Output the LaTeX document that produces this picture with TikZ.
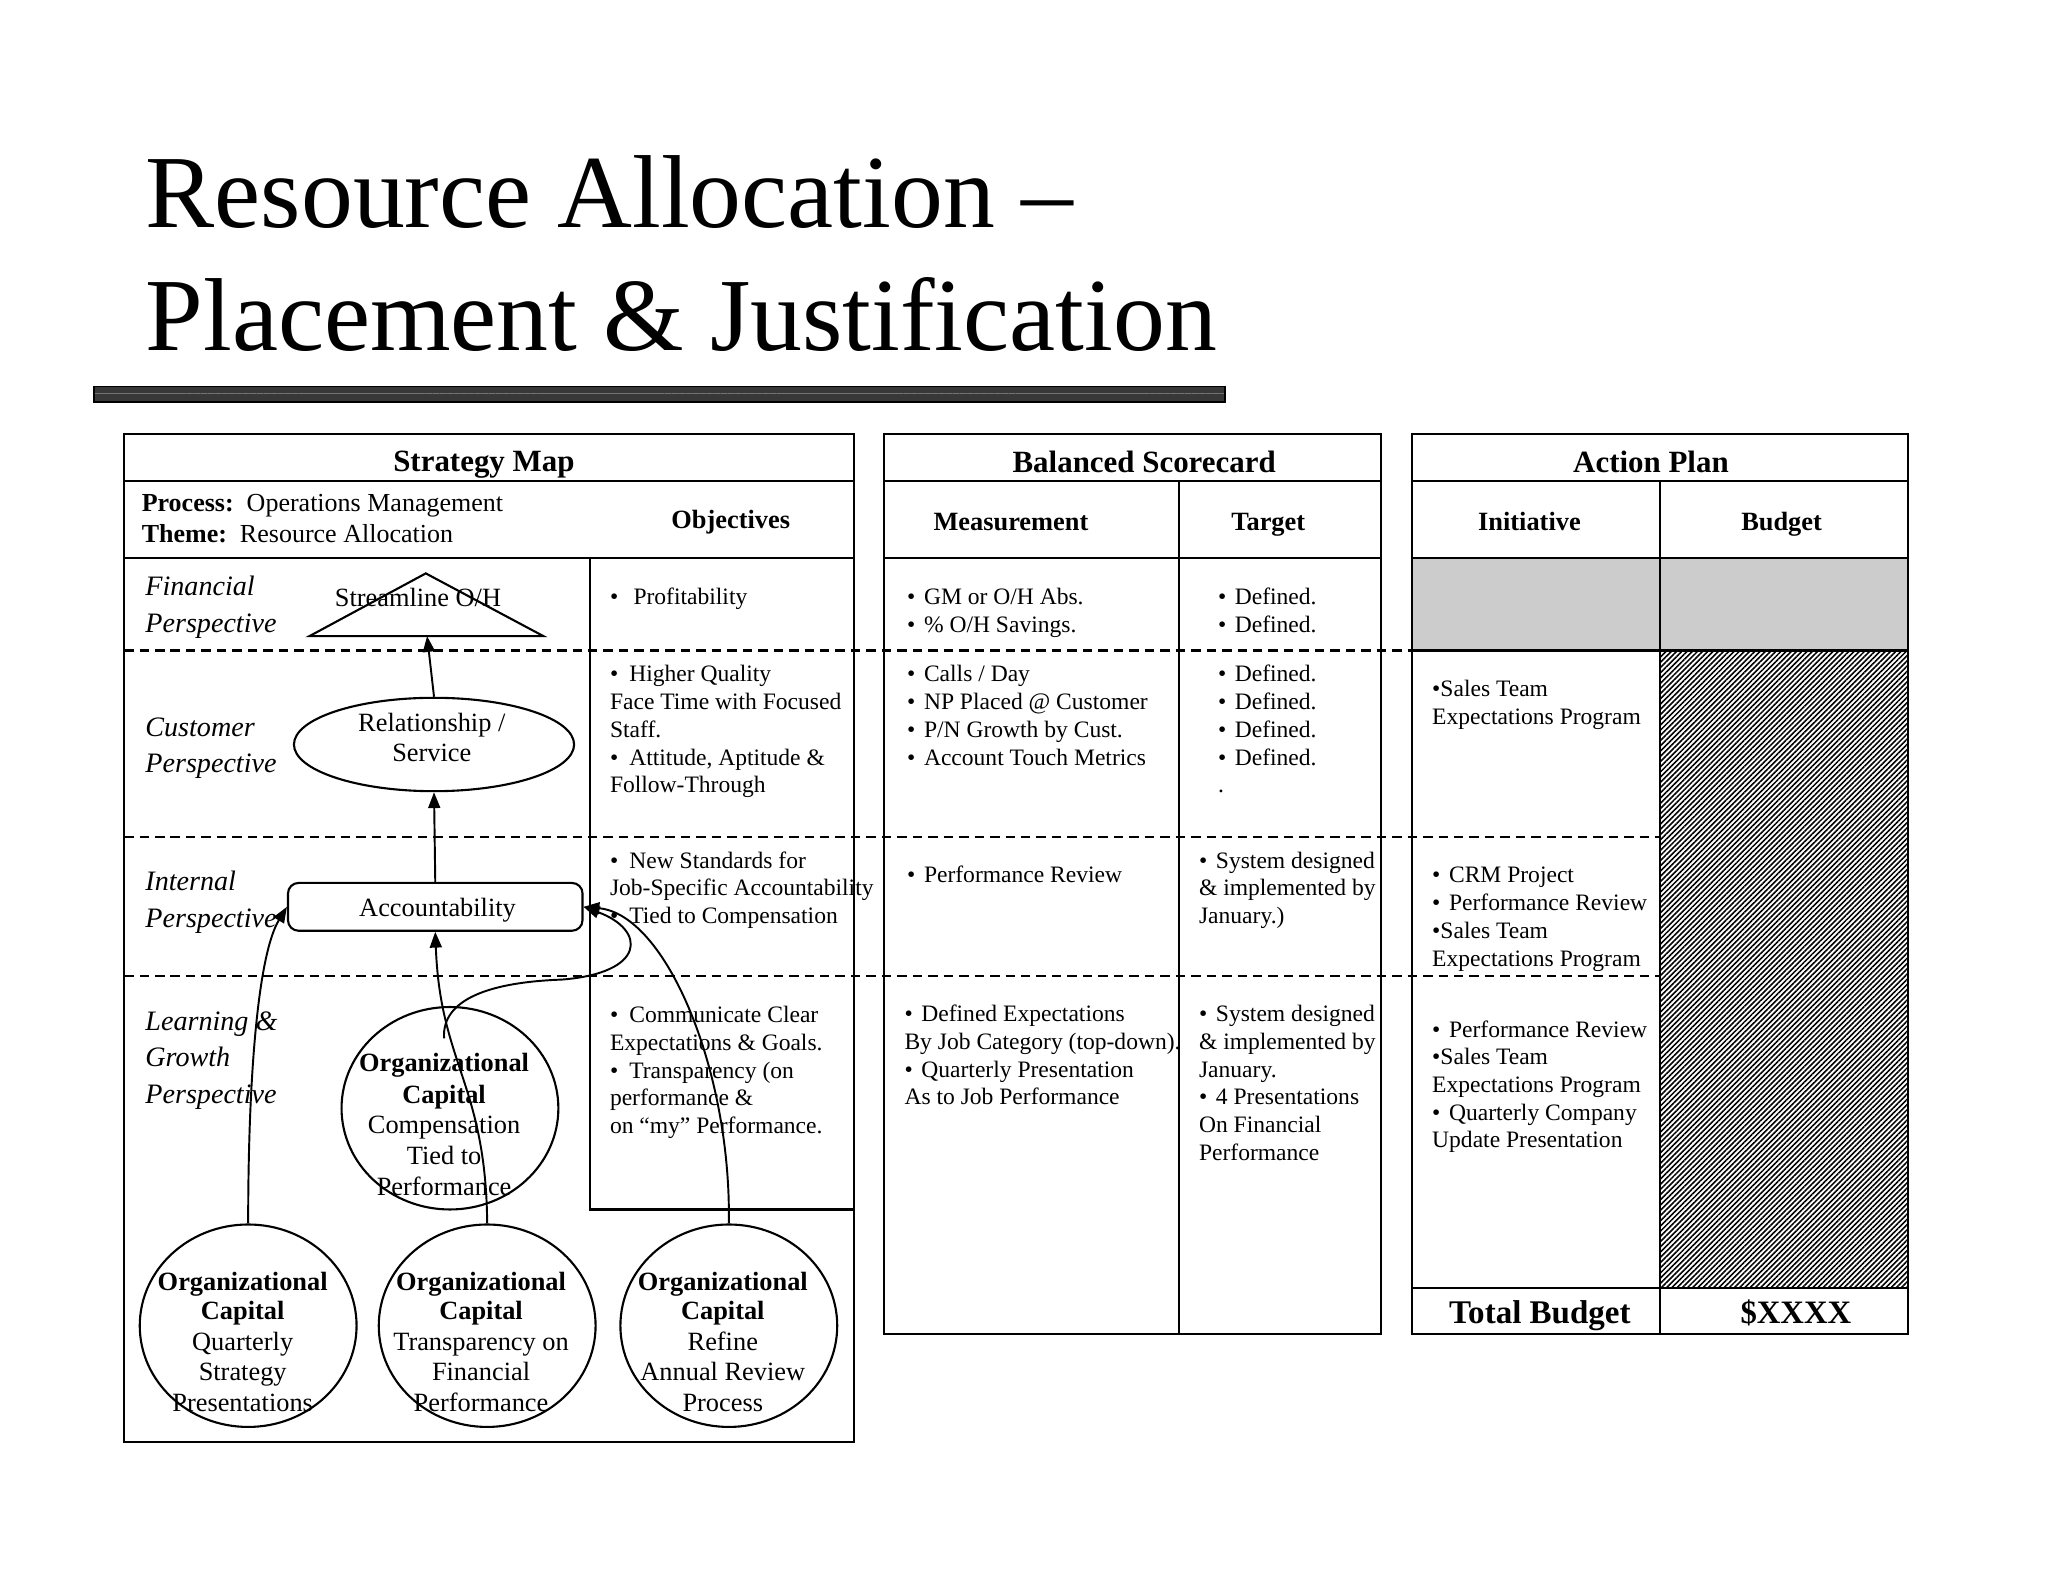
\documentclass[tikz,border=0pt]{standalone}
\usepackage{fontspec}
\setmainfont{Liberation Serif}
\usetikzlibrary{shapes.geometric,arrows.meta,patterns.meta}
\def\U{0.13061mm}
\newcommand\fs[2]{\fontsize{#1}{#2}\selectfont}
\newcommand\bu[1][4.8pt]{\makebox[#1][l]{•}}
\newcommand\mlines[6]{\foreach \tx [count=\i] in {#6}{\node[#1] (#2\i) at (#3,{#4+(\i-1)*#5}) {\tx};}}
\begin{document}
\begin{tikzpicture}[x=\U, y=-\U,
  box/.style={line width=0.6pt},
  dsh/.style={line width=0.6pt, dash pattern=on 2.7pt off 1.7pt},
  arr/.style={line width=0.55pt, -{Triangle[length=4.5pt,width=3.4pt]}},
  tl/.style={anchor=base west, inner sep=0pt, font=\fs{6.7}{8}},
  tc/.style={anchor=base, inner sep=0pt, font=\fs{7.5}{9}},
  tcb/.style={anchor=base, inner sep=0pt, font=\fs{7.5}{9}\bfseries},
  persp/.style={anchor=base west, inner sep=0pt, font=\fs{8}{10}\itshape},
  hdr/.style={anchor=base, inner sep=0pt, font=\fs{8.8}{10}\bfseries},
  sub/.style={anchor=base, inner sep=0pt, font=\fs{7.5}{9}\bfseries},
  ttl/.style={anchor=base west, inner sep=0pt, font=\fs{29.5}{35}},
  ell/.style={ellipse, draw, line width=0.6pt, inner sep=0pt, minimum width=166*\U, minimum height=155*\U}]
\useasboundingbox (0,0) rectangle (1568,1211);
\fill[white] (0,0) rectangle (1568,1211);

% title
\node[ttl] (t1) at (111,173.8) {Resource Allocation –};
\node[ttl] (t2) at (111,268) {Placement \& Justification};
\fill[black!78] (72,296) rectangle (938,308);
\fill[pattern={Lines[angle=0,distance=2pt,line width=0.25pt]}, pattern color=black!55] (72,298) rectangle (938,306);
\draw[black, line width=0.5pt] (72,296) rectangle (938,308);

% fills
\fill[black!20] (1081,427) rectangle (1461,498);
\fill[pattern={Lines[angle=45,distance=1.05pt,line width=0.45pt]}] (1271,498) rectangle (1461,986);

% dashed rows
\draw[dsh] (95,498) -- (1081,498);
\draw[dsh] (95,641) -- (1271,641);
\draw[dsh] (95,747.5) -- (1271,747.5);

% Strategy map frame
\draw[box] (95,332) rectangle (653.5,1104);
\draw[box] (95,368) -- (653.5,368);
\draw[box] (95,427) -- (653.5,427);
\draw[box] (452,427) -- (452,926) -- (653.5,926);

% Balanced scorecard frame
\draw[box] (677,332) rectangle (1057,1021);
\draw[box] (677,368) -- (1057,368);
\draw[box] (677,427) -- (1057,427);
\draw[box] (903,368) -- (903,1021);

% Action plan frame
\draw[box] (1081,332) rectangle (1461,1021);
\draw[box] (1081,368) -- (1461,368);
\draw[box] (1081,427) -- (1461,427);
\draw[box] (1081,498) -- (1461,498);
\draw[box] (1271,368) -- (1271,1021);
\draw[box] (1081,986) -- (1461,986);

% headers
\node[hdr] (hSM) at (370.5,361) {Strategy Map};
\node[hdr] (hBS) at (876,361.6) {Balanced Scorecard};
\node[hdr] (hAP) at (1264,361.6) {Action Plan};
\node[sub] (hOb) at (559.5,405) {Objectives};
\node[sub] (hMe) at (774,405.8) {Measurement};
\node[sub] (hTa) at (971,405.8) {Target};
\node[sub] (hIn) at (1171,405.8) {Initiative};
\node[sub] (hBu) at (1364,405.8) {Budget};
\node[anchor=base west, inner sep=0pt, font=\fs{7.4}{9}] (proc) at (108,391.7) {\textbf{Process:}\ \ Operations Management};
\node[anchor=base west, inner sep=0pt, font=\fs{7.4}{9}] (theme) at (108,415) {\textbf{Theme:}\ \ Resource Allocation};

% perspectives
\mlines{persp}{pF}{110.8}{456.3}{27.7}{Financial,Perspective}
\mlines{persp}{pC}{110.8}{563.5}{28.1}{Customer,Perspective}
\mlines{persp}{pI}{110.8}{682}{27.8}{Internal,Perspective}
\mlines{persp}{pL}{110.8}{788.6}{28.2}{Learning \&,Growth,Perspective}

% strategy map shapes
\draw[line width=0.6pt] (237,487) -- (326,439) -- (416,487) -- cycle;
\coordinate (tri) at (327,487);
\node[tc] (triT) at (320,464.5) {Streamline O/H};

\node[ellipse, draw, line width=0.6pt, inner sep=0pt, minimum width=214.5*\U, minimum height=71.5*\U] (rel) at (332.3,570) {};
\mlines{tc}{relT}{330.6}{559.7}{23.3}{Relationship /,Service}

\node[draw, rounded corners=3pt, line width=0.6pt, inner sep=0pt, minimum width=225.5*\U, minimum height=36.6*\U] (acc) at (333.25,694.3) {};
\node[tc] (accT) at (335,701.8) {Accountability};

\node[ell] (comp) at (344.5,848.5) {};
\mlines{tcb}{compB}{340}{820.5}{24.1}{Organizational,Capital}
\mlines{tc}{compT}{340}{867.6}{23.7}{Compensation,Tied to,Performance}

\node[ell] (ocA) at (190,1015) {};
\node[ell] (ocB) at (373,1015) {};
\node[ell] (ocC) at (558,1015) {};
\mlines{tcb}{ocAB}{185.8}{987.7}{22.9}{Organizational,Capital}
\mlines{tc}{ocAT}{185.8}{1033.6}{23.6}{Quarterly,Strategy,Presentations}
\mlines{tcb}{ocBB}{368.3}{987.7}{22.9}{Organizational,Capital}
\mlines{tc}{ocBT}{368.3}{1033.6}{23.6}{Transparency on,Financial,Performance}
\mlines{tcb}{ocCB}{553.4}{987.7}{22.9}{Organizational,Capital}
\mlines{tc}{ocCT}{553.4}{1033.6}{23.6}{Refine,Annual Review,Process}

% objectives
\node[tl] (obF) at (466.5,462.5) {\bu[6.7pt]Profitability};
\mlines{tl}{obC}{466.5}{522}{21.25}{\bu[5.5pt]Higher Quality,Face Time with Focused,Staff.,{\bu[5.5pt]Attitude, Aptitude \&},Follow-Through}
\mlines{tl}{obI}{466.5}{664.6}{21.1}{\bu[5.5pt]New Standards for,Job-Specific Accountability,\bu[5.5pt]Tied to Compensation}
\mlines{tl}{obL}{466.5}{783}{21.25}{\bu[5.5pt]Communicate Clear,Expectations \& Goals.,\bu[5.5pt]Transparency (on,performance \&,on “my” Performance.}

% measurement
\mlines{tl}{meF}{694}{462.6}{21.3}{\bu GM or O/H Abs.,\bu \% O/H Savings.}
\mlines{tl}{meC}{694}{521.9}{21.3}{\bu Calls / Day,\bu NP Placed @ Customer,\bu P/N Growth by Cust.,\bu Account Touch Metrics}
\node[tl] (meI) at (694,676) {\bu Performance Review};
\mlines{tl}{meL}{692}{782.2}{21.2}{\bu Defined Expectations,By Job Category (top-down).,\bu Quarterly Presentation,As to Job Performance}

% target
\mlines{tl}{taF}{932}{462.6}{21.3}{\bu Defined.,\bu Defined.}
\mlines{tl}{taC}{932}{521.9}{21.3}{\bu Defined.,\bu Defined.,\bu Defined.,\bu Defined.,.}
\mlines{tl}{taI}{917.5}{664.6}{21.1}{\bu System designed,\& implemented by,January.)}
\mlines{tl}{taL}{917.5}{782.2}{21.2}{\bu System designed,\& implemented by,January.,\bu 4 Presentations,On Financial,Performance}

% initiative
\mlines{tl}{inC}{1096}{533.4}{21.3}{•Sales Team,Expectations Program}
\mlines{tl}{inI}{1096}{676}{21.3}{\bu CRM Project,\bu Performance Review,•Sales Team,Expectations Program}
\mlines{tl}{inL}{1096}{794}{21.2}{\bu Performance Review,•Sales Team,Expectations Program,\bu Quarterly Company,Update Presentation}

% total budget
\node[anchor=base, inner sep=0pt, font=\fs{9.4}{11}\bfseries] (tb) at (1179,1013) {Total Budget};
\node[anchor=base, inner sep=0pt, font=\fs{9.3}{11}\bfseries] (tbv) at (1375,1013) {\$XXXX};

% connectors
\coordinate (cj) at (340,795);
\draw[arr] (rel.north) -- (tri);
\draw[arr] (acc.north) -- (rel.south);
\draw[arr] (ocA.north) .. controls (190,820) and (198,730) .. (acc.west);
\draw[arr] (ocB.north) .. controls (372,830) and (337,815) .. (acc.south);
\draw[arr] (cj) .. controls (338,765) and (375,752) .. (430,750) .. controls (495,745) and (495,712) .. (acc.east);
\draw[arr] (ocC.north) .. controls (560,820) and (510,700) .. (acc.east);
\end{tikzpicture}
\end{document}
